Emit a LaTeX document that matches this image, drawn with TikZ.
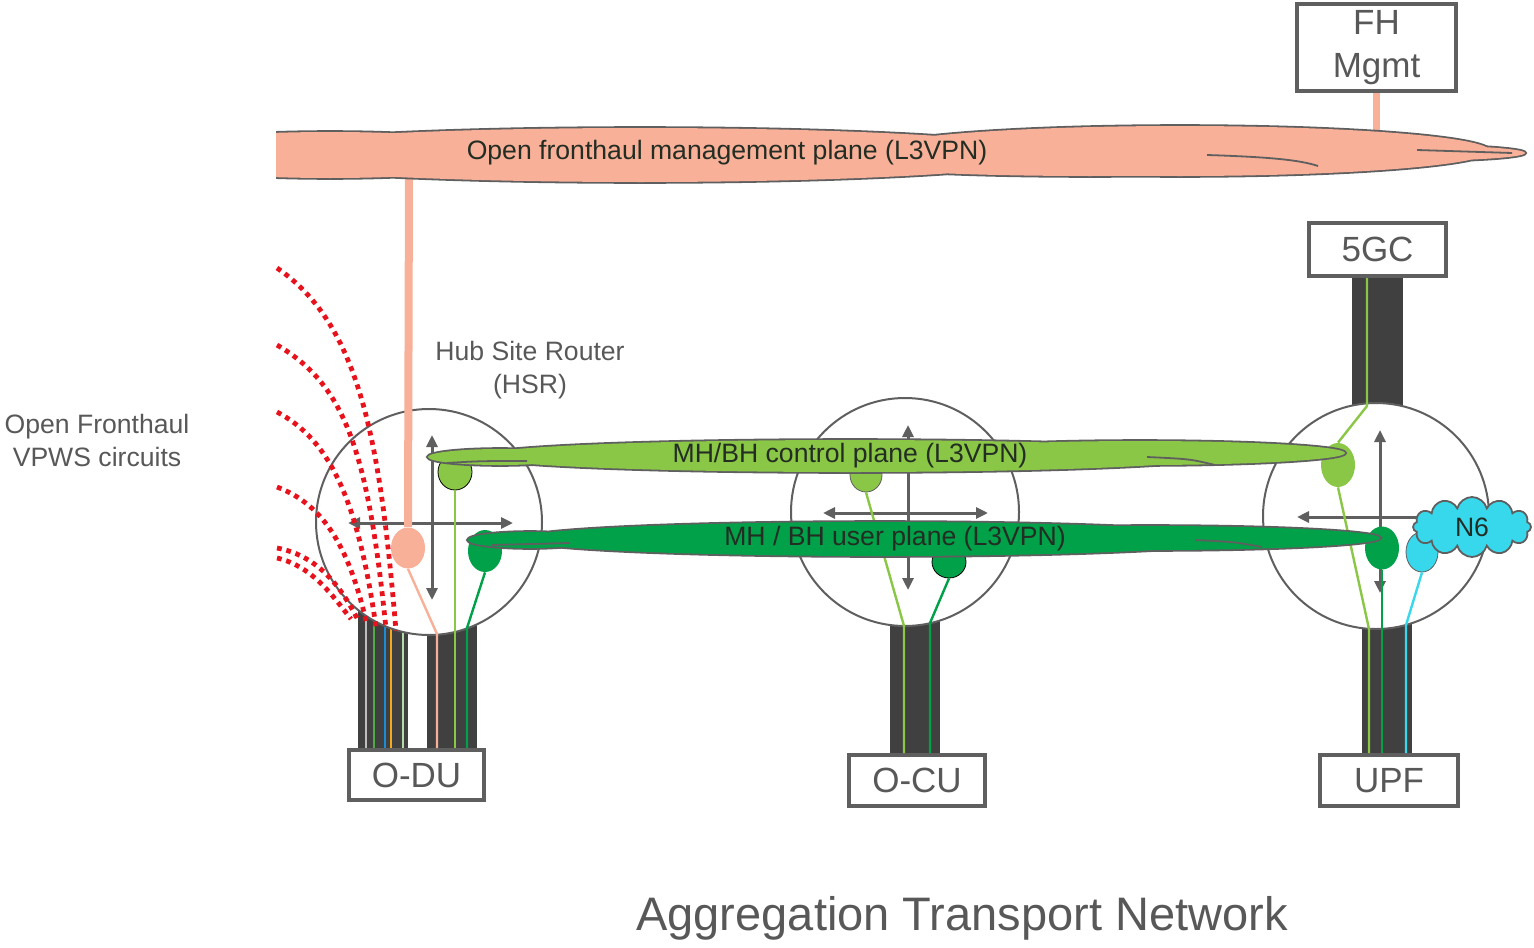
\documentclass[tikz,border=0pt]{standalone}
\usepackage{fontspec}
\setmainfont{Liberation Sans}
\usetikzlibrary{arrows.meta,shapes.geometric,shapes.symbols}

\definecolor{mgmtsalmon}{RGB}{248,176,152}
\definecolor{ctlgreen}{RGB}{138,199,70}
\definecolor{usrgreen}{RGB}{0,161,72}
\definecolor{nsixcyan}{RGB}{56,216,236}
\definecolor{pillargray}{RGB}{64,64,64}
\definecolor{ringgray}{RGB}{95,95,95}
\definecolor{labelgray}{RGB}{88,88,88}
\definecolor{planetext}{RGB}{35,45,35}
\definecolor{circuitred}{RGB}{232,18,28}
\definecolor{fhsilver}{RGB}{190,190,190}
\definecolor{fhgreen}{RGB}{80,170,70}
\definecolor{fhblue}{RGB}{30,140,210}
\definecolor{fhorange}{RGB}{245,170,30}
\definecolor{fhpale}{RGB}{180,220,170}

% cloud outlines, one ellipse per lobe
\newcommand\mgmtcloud{(640,155) ellipse [x radius=420, y radius=27]
  (330,155) ellipse [x radius=200, y radius=23]
  (1180,151) ellipse [x radius=310, y radius=25]
  (1090,164) ellipse [x radius=230, y radius=12]
  (1400,153) ellipse [x radius=125, y radius=8]}
\newcommand\ctlcloud{(850,456) ellipse [x radius=370, y radius=16]
  (500,457) ellipse [x radius=72, y radius=8]
  (1140,453) ellipse [x radius=205, y radius=12]}
\newcommand\usrcloud{(880,539) ellipse [x radius=360, y radius=17]
  (530,540) ellipse [x radius=62, y radius=8]
  (1150,538) ellipse [x radius=230, y radius=12]}

\begin{document}
\begin{tikzpicture}[x=0.5pt, y=-0.5pt,
    box/.style={draw=ringgray, line width=2pt, fill=white, inner sep=0pt, text=labelgray, align=center, font=\fontsize{17.5}{21.5}\selectfont},
    router/.style={circle, draw=ringgray, line width=1pt, fill=white, inner sep=0pt},
    endpoint/.style={ellipse, inner sep=0pt},
    wire/.style={line width=1.2pt},
    crosshair/.style={draw=ringgray, line width=1.5pt, >={Triangle[length=6pt,width=5.5pt]}},
    circuit/.style={circuitred, line width=2.4pt, dash pattern=on 2.4pt off 2.4pt},
    pillar/.style={fill=pillargray},
    plane/.style={text=planetext, font=\fontsize{13.3}{16}\selectfont, inner sep=0pt},
    caption/.style={text=labelgray, align=center, font=\fontsize{13.3}{16.5}\selectfont, inner sep=0pt}]
  \useasboundingbox (0,0) rectangle (1534,947);

  % end boxes
  \node[box, minimum width=79.5pt, minimum height=43.5pt] (fhmgmt) at (1376.5,47.5) {FH\\Mgmt};
  \node[box, minimum width=68.5pt, minimum height=26.5pt] (fivegc) at (1377.5,249.5) {5GC};
  \node[box, minimum width=67.5pt, minimum height=25pt] (odu) at (416.5,775) {O-DU};
  \node[box, minimum width=68pt, minimum height=25.5pt] (ocu) at (917,780.5) {O-CU};
  \node[box, minimum width=69pt, minimum height=25.5pt] (upf) at (1389,780.5) {UPF};

  % pillars
  \fill[pillar] (358,600) rectangle (408,748);
  \fill[pillar] (427,600) rectangle (477,748);
  \fill[pillar] (890,590) rectangle (940,753);
  \fill[pillar] (1362,590) rectangle (1412,753);
  \fill[pillar] (1352,278) rectangle (1403,440);
  \foreach \x/\c in {366/fhsilver, 374/fhgreen, 385/fhblue, 391/fhorange, 403/fhpale}
    \draw[\c, line width=1.2pt] (\x,600) -- (\x,748);

  % routers
  \node[router, minimum size=113pt] (hsr) at (429,522) {};
  \node[router, minimum size=114pt] (cu-rtr) at (905,512) {};
  \node[router, minimum size=113pt] (core-rtr) at (1376,516) {};
  \draw[crosshair, <->] (hsr.center) ++(-81,1) -- ++(165,0);
  \draw[crosshair, <->] (hsr.center) ++(3,-87) -- ++(0,165);
  \draw[crosshair, <->] (cu-rtr.center) ++(-82,1) -- ++(165,0);
  \draw[crosshair, <->] (cu-rtr.center) ++(3,-87) -- ++(0,165);
  \draw[crosshair, <-] (core-rtr.center) ++(-79,1) -- ++(121,0);
  \draw[crosshair, <->] (core-rtr.center) ++(4,-86) -- ++(0,163);

  % fronthaul circuits
  \foreach \ys/\ax/\ay/\bx/\by/\xe/\ye in {268/360/325/380/440/396/631, 345/345/385/368/450/386/629,
      412/330/440/358/500/376/627, 487/325/505/350/550/367/625, 548/320/556/343/590/359/622,
      558/312/566/333/596/351/619}
    \draw[circuit] (277,\ys) .. controls (\ax,\ay) and (\bx,\by) .. (\xe,\ye);

  % plane endpoints
  \node[endpoint, fill=ctlgreen, draw=black, line width=0.4pt, minimum width=17pt, minimum height=18pt] (hsr-ctl) at (455,472) {};
  \node[endpoint, fill=usrgreen, minimum width=17pt, minimum height=21pt] (hsr-usr) at (485,551) {};
  \node[endpoint, fill=mgmtsalmon, minimum width=17pt, minimum height=20.5pt] (hsr-mgmt) at (408,548) {};
  \node[endpoint, fill=ctlgreen, draw=ringgray, line width=0.4pt, minimum width=16pt, minimum height=17pt] (cu-ctl) at (866,475) {};
  \node[endpoint, fill=usrgreen, draw=black, line width=0.4pt, minimum width=17pt, minimum height=16pt] (cu-usr) at (949,562) {};
  \node[endpoint, fill=ctlgreen, minimum width=17pt, minimum height=22pt] (core-ctl) at (1338,465) {};
  \node[endpoint, fill=usrgreen, minimum width=17pt, minimum height=21.5pt] (core-usr) at (1382,548) {};
  \node[endpoint, fill=nsixcyan, draw=ringgray, line width=0.4pt, minimum width=16pt, minimum height=20pt] (core-n6) at (1422,552) {};

  \coordinate (mgmt-drop) at (409,170);
  \coordinate (mgmt-rise) at (1378,140);
  \coordinate (du-mgmt-in) at (437,634);
  \coordinate (du-usr-in) at (467,628);
  \coordinate (cu-ctl-in) at (904,626);
  \coordinate (cu-usr-in) at (930,623);
  \coordinate (gc-ctl-in) at (1367,406);
  \coordinate (upf-ctl-in) at (1369,629);
  \coordinate (upf-n6-in) at (1406,625);

  \draw[mgmtsalmon, line width=4pt] (mgmt-drop) -- (hsr-mgmt.north);
  \draw[mgmtsalmon, line width=3.5pt] (fhmgmt.south) -- (fhmgmt.south |- mgmt-rise);
  \draw[wire, mgmtsalmon] (hsr-mgmt.south) -- (du-mgmt-in) -- (du-mgmt-in |- odu.north);
  \draw[wire, ctlgreen] (hsr-ctl.south) -- (hsr-ctl.south |- odu.north);
  \draw[wire, usrgreen] (hsr-usr.south) -- (du-usr-in) -- (du-usr-in |- odu.north);
  \draw[wire, ctlgreen] (cu-ctl.south) -- (cu-ctl-in) -- (cu-ctl-in |- ocu.north);
  \draw[wire, usrgreen] (cu-usr.south) -- (cu-usr-in) -- (cu-usr-in |- ocu.north);
  \draw[wire, ctlgreen] (core-ctl.north) -- (gc-ctl-in) -- (gc-ctl-in |- fivegc.south);
  \draw[wire, ctlgreen] (core-ctl.south) -- (upf-ctl-in) -- (upf-ctl-in |- upf.north);
  \draw[wire, usrgreen] (core-usr.south) -- (core-usr.south |- upf.north);
  \draw[wire, nsixcyan] (core-n6.south) -- (upf-n6-in) -- (upf-n6-in |- upf.north);

  % management plane
  \begin{scope}
    \clip (276,0) rectangle (1534,300);
    \draw[ringgray, line width=1.8pt] \mgmtcloud;
    \fill[mgmtsalmon] \mgmtcloud;
    \draw[ringgray, line width=0.9pt] (1207,155) .. controls (1270,157) and (1300,160) .. (1318,166);
    \draw[ringgray, line width=0.9pt] (1417,150) -- (1512,153);
  \end{scope}
  \node[plane] (mgmt-label) at (727,153) {Open fronthaul management plane (L3VPN)};

  % control plane
  \draw[ringgray, line width=1.8pt] \ctlcloud;
  \fill[ctlgreen] \ctlcloud;
  \draw[ringgray, line width=0.9pt] (447,463) .. controls (480,461) .. (527,461);
  \draw[ringgray, line width=0.9pt] (1147,457) .. controls (1190,459) .. (1215,465);
  \node[plane] (ctl-label) at (850,456) {MH/BH control plane (L3VPN)};

  % user plane
  \draw[ringgray, line width=1.8pt] \usrcloud;
  \fill[usrgreen] \usrcloud;
  \draw[ringgray, line width=0.9pt] (492,545) -- (570,543);
  \draw[ringgray, line width=0.9pt] (1195,540) .. controls (1235,542) .. (1262,547);
  \node[plane] (usr-label) at (895,539) {MH / BH user plane (L3VPN)};

  \node[cloud, cloud puffs=12, aspect=2.1, draw=ringgray, line width=0.9pt, fill=nsixcyan,
    minimum width=59pt, minimum height=30pt, plane] (n6) at (1472,527) {N6};

  % captions
  \node[caption] (hsr-label) at (530,370) {Hub Site Router\\(HSR)};
  \node[caption] (fh-label) at (97,440) {Open Fronthaul\\VPWS circuits};
  \node[caption, font=\fontsize{23.5}{28}\selectfont] (atn-label) at (962,918) {Aggregation Transport Network};
\end{tikzpicture}
\end{document}
